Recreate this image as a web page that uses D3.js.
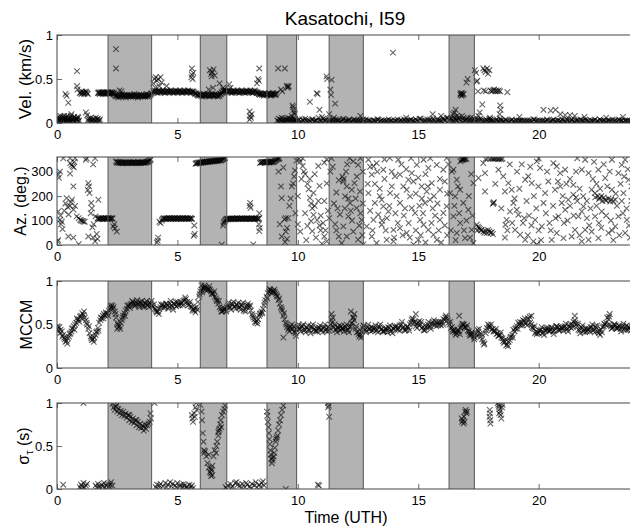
<!DOCTYPE html>
<html><head><meta charset="utf-8">
<script src="https://cdn.jsdelivr.net/npm/d3@7"></script>
<style>body{margin:0;background:#fff} text{font-family:"Liberation Sans",Arial,Helvetica,sans-serif}</style>
</head><body><svg id="c" width="630" height="527"></svg>
<script>
// ---------------- DATA ----------------
const chartTitle = "Kasatochi, I59";
const xLabel = "Time (UTH)";
const xTicks = [0, 5, 10, 15, 20];
const shadeStart = [2.12, 5.95, 8.72, 11.3, 16.28];
const shadeEnd   = [3.93, 7.05, 9.95, 12.72, 17.33];

const velTicks = [0, 0.5, 1];
const azTicks = [0, 100, 200, 300];
const mccmTicks = [0, 0.5, 1];
const sigTicks = [0, 0.5, 1];

// runs: [start time (h), sample step (h), values]
const velRuns = [
 [0.0,0.04,[0.03,0.05,0.02,0.06,0.04,0.01,0.07,0.03,0.05,0.02,0.04,0.08,0.03,0.05,0.02,0.06,0.04,0.03,0.07,0.02,0.05,0.04,0.06,0.03]],
 [0.02,0.04,[0.06,0.02,0.04,0.08,0.01,0.05,0.03,0.06,0.02,0.07,0.04,0.01,0.05,0.03,0.08,0.02,0.04,0.06,0.01,0.05,0.03,0.07,0.02]],
 [0.95,0.03,[0.34,0.35,0.33,0.36,0.34,0.35,0.33,0.34,0.36,0.35,0.34,0.33]],
 [1.28,0.03,[0.03,0.05,0.02,0.04,0.06,0.02,0.03,0.05,0.01,0.04,0.03,0.06,0.02,0.04,0.05,0.03,0.02,0.04]],
 [1.7,0.025,[0.34,0.35,0.34,0.33,0.35,0.34,0.34,0.35,0.33,0.34,0.35,0.34,0.34,0.33,0.35,0.34,0.34,0.35,0.34,0.33,0.34,0.35,0.34,0.34,0.35,0.34,0.33,0.34]],
 [2.4,0.03,[0.32,0.31,0.30,0.32,0.31,0.29,0.31,0.32,0.30,0.31,0.33,0.31,0.30,0.32,0.31,0.29,0.31,0.32,0.30,0.31,0.32,0.31,0.30,0.32,0.31,0.30,0.31,0.33,0.31,0.30,0.32,0.31,0.29,0.31,0.32,0.30,0.31,0.32,0.31,0.30,0.32,0.31,0.30,0.31,0.33,0.31,0.30,0.32,0.31,0.32,0.33,0.34]],
 [4.0,0.03,[0.36,0.35,0.37,0.36,0.35,0.36,0.34,0.36,0.37,0.35,0.36,0.35,0.36,0.37,0.35,0.36,0.34,0.36,0.35,0.37,0.36,0.35,0.36,0.35,0.37,0.36,0.35,0.36,0.34,0.36,0.35,0.37,0.36,0.35,0.36,0.35,0.36,0.37,0.35,0.36,0.34,0.36,0.35,0.37,0.36,0.35,0.36,0.35,0.37,0.36,0.35,0.36,0.34,0.36,0.35,0.36,0.35,0.34,0.33,0.34,0.33,0.32]],
 [5.85,0.03,[0.32,0.31,0.33,0.32,0.31,0.32,0.30,0.32,0.33,0.31,0.32,0.31,0.32,0.33,0.31,0.32,0.30,0.32,0.31,0.33,0.32,0.31,0.32,0.31,0.33,0.32,0.31,0.32,0.30,0.32,0.31,0.33]],
 [6.8,0.03,[0.33,0.35,0.34,0.37,0.36,0.38,0.36,0.37,0.36]],
 [7.07,0.03,[0.36,0.35,0.37,0.36,0.35,0.36,0.34,0.36,0.35,0.37,0.36,0.35,0.36,0.35,0.37,0.36,0.34,0.36,0.35,0.36,0.37,0.35,0.36,0.35,0.36,0.34,0.36,0.37,0.35,0.36,0.35,0.36,0.37,0.35,0.36,0.34,0.36,0.35,0.37,0.36,0.35,0.34,0.35,0.34,0.33]],
 [8.4,0.03,[0.33,0.32,0.34,0.33,0.32,0.33,0.31,0.33,0.34,0.32,0.33,0.32,0.33,0.34,0.32,0.33,0.31,0.33,0.32,0.34,0.33,0.32,0.33,0.32,0.34]],
 [9.15,0.03,[0.03,0.02,0.05,0.01,0.04,0.03,0.06,0.02,0.04,0.01,0.03,0.05,0.02,0.04,0.03,0.06,0.02,0.03,0.05,0.01,0.04,0.02,0.05,0.03,0.04,0.02]],
 [9.9,0.08,[0.03,0.02,0.04,0.01,0.03,0.05,0.02,0.03,0.01,0.04,0.02,0.03,0.06,0.02,0.01,0.03,0.04,0.02,0.03,0.01,
  0.02,0.04,0.03,0.01,0.02,0.05,0.03,0.02,0.04,0.01,0.03,0.02,0.01,0.03,0.02,0.04,0.02,0.01,0.03,0.02,
  0.01,0.03,0.02,0.04,0.02,0.01,0.03,0.02,0.01,0.02,0.03,0.01,0.02,0.04,0.02,0.03,0.01,0.02,0.03,0.02,
  0.04,0.02,0.01,0.03,0.02,0.05,0.02,0.03,0.01,0.02,0.04,0.02,0.03,0.01,0.02,0.03,0.02,0.04,0.03,0.06,
  0.03,0.05,0.02,0.04,0.03,0.07,0.02,0.05,0.03,0.04,0.02,0.06,0.03,0.04,0.02,0.03,0.05,0.02,0.03,0.04,
  0.02,0.03,0.01,0.02,0.03,0.02,0.01,0.03,0.02,0.04,0.02,0.01,0.03,0.02,0.01,0.02,0.03,0.02,0.01,0.03,
  0.02,0.01,0.03,0.02,0.04,0.02,0.01,0.03,0.02,0.01,0.02,0.03,0.01,0.02,0.04,0.02,0.03,0.01,0.02,0.03,
  0.02,0.04,0.01,0.03,0.02,0.01,0.03,0.02,0.04,0.02,0.01,0.03,0.02,0.01,0.02,0.03,0.01,0.02,0.04,0.02,
  0.03,0.01,0.02,0.03,0.02,0.01,0.03,0.02,0.04,0.02,0.01,0.03,0.02,0.01,0.02,0.03,0.02]],
 [9.94,0.08,[0.02,0.03,0.01,0.04,0.02,0.03,0.01,0.02,0.04,0.02,0.03,0.01,0.02,0.03,0.05,0.02,0.01,0.03,0.02,0.04,
  0.01,0.02,0.03,0.02,0.04,0.01,0.02,0.03,0.01,0.02,0.04,0.03,0.02,0.01,0.03,0.02,0.04,0.03,0.02,0.01,
  0.03,0.02,0.04,0.01,0.03,0.02,0.01,0.03,0.04,0.02,0.01,0.03,0.02,0.01,0.03,0.02,0.04,0.01,0.02,0.03,
  0.02,0.03,0.04,0.02,0.05,0.03,0.01,0.02,0.04,0.03,0.02,0.05,0.01,0.04,0.03,0.02,0.05,0.03,0.06,0.04,
  0.05,0.02,0.06,0.03,0.05,0.04,0.08,0.03,0.04,0.06,0.03,0.02,0.05,0.03,0.04,0.02,0.03,0.01,0.02,0.03,
  0.01,0.02,0.03,0.01,0.04,0.02,0.03,0.01,0.02,0.03,0.01,0.02,0.04,0.02,0.03,0.01,0.02,0.03,0.02,0.01,
  0.03,0.02,0.01,0.04,0.02,0.03,0.02,0.01,0.03,0.02,0.04,0.01,0.02,0.03,0.02,0.01,0.03,0.02,0.04,0.02,
  0.01,0.03,0.02,0.04,0.01,0.02,0.03,0.01,0.02,0.03,0.04,0.02,0.01,0.03,0.02,0.04,0.02,0.01,0.03,0.02,
  0.02,0.01,0.03,0.02,0.04,0.02,0.01,0.03,0.02,0.03,0.01,0.02,0.03,0.02,0.01,0.02]]
];
const velPts = [[0.35,0.33],[0.4,0.31],[0.47,0.23],[0.83,0.59],[0.83,0.42],[0.85,0.38],[0.3,0.08],[0.6,0.1],[1.2,0.12],[1.25,0.09],[2.45,0.84],[2.45,0.62],[2.68,0.36],[2.6,0.37],[4.0,0.45],[4.05,0.5],[4.1,0.52],[4.15,0.48],[4.2,0.5],[4.25,0.42],[4.3,0.52],[4.35,0.46],[4.08,0.4],[4.55,0.42],[5.6,0.62],[5.6,0.55],[5.63,0.5],[5.66,0.57],[5.58,0.52],[6.35,0.6],[6.4,0.56],[6.45,0.58],[6.5,0.61],[6.55,0.54],[6.42,0.53],[6.48,0.4],[6.3,0.38],[6.75,0.45],[6.9,0.4],[7.15,0.44],[7.2,0.4],[8.0,0.13],[8.02,0.08],[8.05,0.06],[8.0,0.04],[8.08,0.1],[8.4,0.62],[8.35,0.5],[8.3,0.45],[8.38,0.48],[9.18,0.62],[9.46,0.62],[9.54,0.42],[9.57,0.4],[9.6,0.41],[9.62,0.42],[9.3,0.38],[9.35,0.36],[9.8,0.18],[9.82,0.15],[9.85,0.12],[9.78,0.2],[9.88,0.1],[9.75,0.08],[10.5,0.24],[10.78,0.34],[10.82,0.33],[11.19,0.53],[11.22,0.5],[11.4,0.49],[11.35,0.38],[11.38,0.32],[11.55,0.22],[10.9,0.15],[11.0,0.07],[11.3,0.1],[11.5,0.06],[13.95,0.8],[15.6,0.1],[15.95,0.08],[16.5,0.12],[16.55,0.15],[16.45,0.1],[16.6,0.08],[16.75,0.32],[16.78,0.33],[16.8,0.31],[16.82,0.34],[16.85,0.32],[16.88,0.33],[16.76,0.34],[17.0,0.46],[17.05,0.5],[17.35,0.6],[17.4,0.57],[17.42,0.47],[17.45,0.48],[17.48,0.36],[17.66,0.21],[17.55,0.12],[17.5,0.08],[17.7,0.62],[17.75,0.6],[17.8,0.58],[17.85,0.62],[17.9,0.56],[17.95,0.6],[17.72,0.37],[17.8,0.36],[18.0,0.37],[18.05,0.36],[18.1,0.37],[18.15,0.38],[18.2,0.36],[18.25,0.37],[18.3,0.36],[18.35,0.37],[18.4,0.36],[18.7,0.35],[18.4,0.2],[18.42,0.15],[18.38,0.1],[18.4,0.05],[17.95,0.05],[18.0,0.04],[17.98,0.06],[20.2,0.15],[20.5,0.14],[20.7,0.15],[20.9,0.1],[21.1,0.09],[21.3,0.09],[21.5,0.08],[21.9,0.07],[12.6,0.08],[14.5,0.06],[19.2,0.07],[22.8,0.06],[23.5,0.07]];

const azRuns = [
 [1.68,0.03,[108,110,106,109,107,111,108,106,110,108,109,107,110,108,106,109,111,108,107,110,108,109]],
 [2.45,0.03,[342,338,336,340,337,335,339,336,338,334,337,339,336,335,338,337,334,336,339,337,335,338,336,337,339,335,337,338,336,334,337,339,336,338,335,337,339,336,338,337,336,339,338,340,342,341,344,346,350]],
 [4.35,0.03,[100,105,108,110,107,109,106,110,108,107,111,108,106,109,110,108,107,109,111,108,106,110,108,109,107,110,108,106,109,111,108,107,110,108,109,107,110,108,106,109,110,108,107]],
 [5.75,0.03,[332,335,334,336,338,335,337,339,336,338,340,337,339,341,338,340,342,339,341,343,340,342,344,341,343,345,342,344,346,343,345,347,344,346,348,345,347,350,352,354,355,357]],
 [6.95,0.03,[95,100,104,106,108,105,107,109,106,108,107,110,106,108,107,109,105,108,110,107,106,109,108,107,110,106,108,107,109,108,106,110,107,108,109,106,108,107,110,108,106,109,107,108,110,107,108,106,109]],
 [8.43,0.03,[335,338,340,337,339,341,338,340,336,339,341,338,340,337,339,342,338,340,341,339,343,345,347,350,353,355,352,356]]
];
const azPts = [
 [0.05,20],[0.02,15],[0.05,288],[0.08,275],[0.12,300],[0.26,355],[0.54,355],[0.75,355],[1.23,355],[1.58,355],[0.54,292],[0.6,328],[0.55,335],[0.65,322],[0.72,340],[0.7,318],[1.2,348],[1.5,330],[0.68,240],[1.3,253],[1.28,225],[1.35,212],[1.33,240],[1.72,185],[1.42,172],[1.45,150],[1.4,130],[1.6,117],[0.4,192],[0.54,160],[0.58,175],[0.68,145],[0.48,125],[0.35,170],[0.45,155],[0.62,185],[0.75,160],[0.3,140],[0.05,137],[0.12,103],[0.17,85],[0.23,65],[0.15,120],[0.2,95],[0.82,117],[0.96,103],[1.1,96],[0.9,110],[1.0,100],[1.05,98],[1.15,95],[0.47,35],[0.68,30],[1.3,35],[1.5,30],[1.58,15],[1.65,45],[1.52,85],[1.47,72],[1.68,25],[0.9,3],
 [2.34,76],[2.48,55],[2.4,68],[2.38,85],[4.2,30],[4.15,10],[4.18,18],[4.25,95],[4.3,90],[5.7,80],[5.72,45],[5.68,38],[6.84,1],[6.9,80],[6.92,90],[8.02,172],[8.04,152],[8.0,160],[8.15,2],[8.4,130],[8.4,57],[8.38,85],[8.42,70],
 [9.4,317],[9.33,192],[9.5,110],[9.45,105],[9.6,110],[9.25,85],[9.5,55],[9.33,35],[9.47,12],[9.55,25],[9.88,305],[9.75,240],[9.8,252],[9.85,280],[9.95,345],[10.05,352],[10.1,340],[10.2,355],[9.2,300],[9.3,240],[9.65,160],[9.7,190],[9.9,130],[9.55,70],
 [10.2,323],[10.3,290],[10.4,250],[10.45,228],[10.5,193],[10.55,170],[10.6,150],[10.65,123],[10.8,102],[10.9,80],[10.95,60],[11.1,35],[11.2,15],[10.0,85],[10.1,55],[10.4,78],[10.55,98],[10.6,57],[10.65,213],[10.85,180],[10.9,242],[10.7,290],[10.85,323],[11.1,337],[11.2,350],[11.4,355],[11.2,252],[11.1,180],[11.3,110],[11.25,140],[11.5,170],[11.55,85],[11.7,35],[11.7,265],[11.6,215],[11.75,125],[10.3,130],[10.0,200],[10.15,270],[10.75,30],[11.0,5],[10.35,20],
 [11.89,260],[12.03,240],[12.24,226],[11.96,199],[12.3,342],[12.5,328],[12.35,253],[12.58,219],[12.17,172],[12.44,151],[12.1,117],[12.65,103],[11.89,76],[12.3,55],[12.03,35],[12.5,22],[11.82,8],[12.72,2],[11.85,280],[11.9,270],[12.0,300],[12.15,355],[12.6,355],[12.7,300],[12.4,190],[12.2,140],[12.55,80],[11.95,150],[12.7,170],
 [12.93,349],[13.14,322],[13.07,288],[13.27,335],[13.55,308],[13.82,356],[14.17,349],[14.24,288],[14.03,281],[14.73,294],[14.8,260],[14.94,328],[15.22,349],[15.42,315],[15.77,328],[16.04,308],[16.18,356],[15.56,253],[15.9,226],[15.35,219],[15.14,240],[14.52,226],[14.66,199],[13.48,185],[13.2,172],[13.55,158],[13.76,137],[13.34,124],[13.14,103],[13.48,83],[13.97,62],[14.24,69],[14.52,49],[14.73,151],[14.87,131],[15.08,103],[15.22,83],[15.42,62],[15.63,42],[15.77,21],[15.9,103],[16.04,131],[16.18,158],[15.49,185],[15.28,172],[14.24,172],[13.07,35],[13.69,21],[13.97,15],[15.0,21],[14.8,2],[13.27,8],[12.86,76],[12.93,212],[13.83,212],[14.38,240],[14.59,267],
 [13.3,300],[13.6,270],[13.9,240],[14.1,200],[14.4,120],[14.6,90],[14.9,60],[15.1,40],[15.3,10],[15.6,150],[15.7,120],[16.1,80],[16.2,40],[13.0,140],[13.4,230],[13.7,110],[14.0,30],[14.3,330],[14.7,355],[15.0,275],[15.3,290],[15.5,355],[15.9,270],[16.2,210],[12.9,250],[13.1,60],[13.6,350],[14.45,150],[15.15,190],[15.85,60],
 [16.82,352],[16.85,349],[16.87,355],[16.9,350],[16.93,352],[16.8,346],[16.75,342],[16.95,356],[17.0,352],[16.46,308],[16.6,267],[16.74,226],[16.53,199],[16.87,172],[17.08,144],[16.46,117],[16.74,90],[17.22,62],[16.6,49],[16.94,28],[17.29,8],[16.32,212],[17.29,253],[16.4,300],[16.7,130],[17.1,200],[17.2,290],[16.35,60],[17.0,100],[16.55,20],
 [17.43,83],[17.48,75],[17.52,70],[17.56,65],[17.6,60],[17.64,62],[17.7,55],[17.75,50],[17.8,58],[17.85,49],[17.45,60],[17.9,62],[17.95,55],[18.0,49],[18.05,52],[18.1,45],[17.7,335],[17.77,294],[17.77,219],[17.5,274],[17.8,352],[17.9,355],[18.0,354],[18.05,356],[18.1,352],[18.15,355],[18.2,353],[18.25,356],[18.3,354],[18.35,352],[18.4,355],[18.45,351],[18.5,354],[18.12,172],[18.1,168],[18.14,175],
 [18.33,308],[18.53,281],[18.74,253],[18.88,226],[18.6,219],[18.67,103],[18.62,83],[18.81,137],[18.95,172],[19.09,144],[19.16,124],[19.02,62],[19.23,42],[19.44,21],[19.78,15],[19.92,2],[19.44,267],[19.57,281],[19.71,253],[19.92,342],[20.06,315],[20.2,172],[20.27,212],[19.85,103],[20.13,76],[19.99,240],[20.61,335],[20.75,322],[20.89,294],[21.1,308],[20.68,226],[20.96,172],[21.1,144],[20.82,117],[21.23,185],[21.44,206],[20.75,49],[20.54,21],[21.03,28],[21.37,35],[21.51,62],[21.65,117],[21.79,137],[21.86,158],[21.93,349],[21.79,308],[22.07,294],[22.2,226],[22.34,212],[22.55,192],[22.76,185],[22.97,178],[23.18,185],[23.04,226],[23.31,294],[23.45,328],[23.04,349],[23.59,349],[23.73,267],[23.52,212],[23.66,103],[23.31,117],[23.18,76],[23.59,49],[22.9,49],[22.48,28],[22.2,55],[22.07,21],[21.93,62],[21.79,15],[22.34,117],[22.62,137],[22.76,274],[22.48,308],[21.44,246],
 [18.7,60],[18.9,90],[19.1,300],[19.3,330],[19.5,180],[19.6,120],[19.7,80],[19.8,200],[20.0,355],[20.3,130],[20.4,260],[20.45,90],[20.6,160],[20.9,240],[21.0,200],[21.2,100],[21.3,270],[21.6,355],[21.7,230],[22.0,180],[22.1,80],[22.3,340],[22.4,250],[22.6,70],[22.7,330],[22.85,240],[23.0,100],[23.1,20],[23.25,160],[23.4,250],[23.5,130],[23.7,310],[23.8,30],[23.85,180],[23.9,355],[22.6,200],[22.65,180],[22.7,195],[22.9,190],[23.1,180],[22.45,200],
 [10.25,300],[10.5,270],[10.7,160],[10.95,120],[11.05,90],[11.15,60],[11.35,300],[11.45,320],[11.6,60],[11.65,150],[12.05,330],[12.1,190],[12.25,100],[12.45,280],[12.6,130],[12.68,40],[13.0,320],[13.2,250],[13.4,200],[13.5,100],[13.65,60],[13.8,160],[13.9,300],[14.05,130],[14.15,90],[14.35,40],[14.5,310],[14.65,30],[14.9,210],[15.05,160],[15.2,130],[15.4,240],[15.55,90],[15.65,200],[15.8,170],[15.95,10],[16.1,260],[16.25,330],[16.5,160],[16.65,240],[16.9,60],[17.15,30],[17.25,120],[18.2,250],[18.45,150],[18.6,30],[18.8,330],[19.0,190],[19.2,230],[19.35,90],[19.55,40],[19.65,320],[19.9,150],[20.1,20],[20.35,300],[20.5,60],[20.7,110],[20.8,260],[21.05,90],[21.15,250],[21.3,160],[21.45,120],[21.55,300],[21.7,40],[21.85,200],[22.0,110],[22.15,150],[22.25,270],[22.4,160],[22.5,90],[22.55,230],[22.8,120],[22.95,300],[23.05,60],[23.2,210],[23.35,40],[23.45,180],[23.55,280],[23.65,150],[23.75,80],[23.85,240],[23.95,120],[22.35,195],[22.5,188],[22.8,182],[23.0,185],[21.55,195],[21.6,180],[20.0,60],[19.4,110]
];

// MCCM: three interleaved sample series (every 0.1 h)
const mccmA = [
 0.45,0.47,0.42,0.35,0.31,0.36,0.42,0.48,0.52,0.56, 0.60,0.61,0.55,0.45,0.36,0.33,0.38,0.46,0.55,0.60,
 0.60,0.63,0.68,0.72,0.65,0.52,0.48,0.55,0.63,0.68, 0.72,0.74,0.74,0.75,0.73,0.74,0.72,0.74,0.73,0.74,
 0.70,0.67,0.65,0.70,0.73,0.70,0.72,0.74,0.70,0.73, 0.76,0.72,0.75,0.78,0.76,0.73,0.70,0.66,0.70,0.82,
 0.90,0.92,0.92,0.91,0.88,0.85,0.80,0.74,0.68,0.66, 0.68,0.72,0.70,0.73,0.71,0.72,0.70,0.72,0.68,0.72,
 0.70,0.62,0.56,0.54,0.60,0.65,0.72,0.82,0.88,0.89, 0.88,0.85,0.78,0.70,0.60,0.52,0.44,0.48,0.45,0.40,
 0.47,0.45,0.48,0.44,0.46,0.43,0.47,0.45,0.42,0.46, 0.44,0.47,0.45,0.43,0.55,0.47,0.44,0.46,0.48,0.45,
 0.47,0.44,0.48,0.58,0.45,0.42,0.38,0.46,0.44,0.47, 0.45,0.43,0.46,0.44,0.47,0.45,0.42,0.44,0.46,0.43,
 0.45,0.48,0.46,0.50,0.47,0.44,0.46,0.52,0.56,0.48, 0.52,0.50,0.47,0.44,0.50,0.48,0.53,0.50,0.52,0.50,
 0.53,0.55,0.58,0.50,0.47,0.44,0.40,0.42,0.48,0.50, 0.46,0.42,0.38,0.36,0.40,0.42,0.36,0.30,0.40,0.50,
 0.47,0.45,0.42,0.40,0.38,0.34,0.30,0.27,0.32,0.38, 0.42,0.48,0.50,0.52,0.54,0.52,0.56,0.50,0.45,0.42,
 0.40,0.44,0.41,0.43,0.46,0.44,0.42,0.45,0.47,0.44, 0.46,0.48,0.45,0.47,0.50,0.55,0.48,0.43,0.46,0.44,
 0.42,0.45,0.47,0.44,0.46,0.40,0.44,0.48,0.52,0.56, 0.48,0.47,0.49,0.46,0.45,0.48,0.47,0.44,0.46,0.48,
 0.45];
const mccmB = [
 0.43,0.44,0.38,0.30,0.34,0.40,0.46,0.50,0.55,0.59, 0.63,0.58,0.50,0.40,0.32,0.35,0.42,0.52,0.57,0.62,
 0.62,0.66,0.70,0.70,0.58,0.47,0.52,0.60,0.66,0.71, 0.73,0.76,0.72,0.74,0.76,0.71,0.75,0.72,0.75,0.72,
 0.68,0.64,0.68,0.72,0.71,0.74,0.70,0.72,0.74,0.71, 0.74,0.74,0.77,0.79,0.72,0.71,0.68,0.64,0.76,0.88,
 0.92,0.93,0.90,0.90,0.86,0.82,0.77,0.70,0.65,0.67, 0.70,0.70,0.74,0.70,0.73,0.69,0.73,0.66,0.70,0.71,
 0.66,0.58,0.52,0.56,0.63,0.68,0.78,0.86,0.90,0.88, 0.87,0.82,0.74,0.66,0.56,0.47,0.42,0.50,0.42,0.44,
 0.45,0.48,0.43,0.47,0.44,0.48,0.44,0.43,0.47,0.44, 0.46,0.43,0.47,0.50,0.58,0.44,0.47,0.43,0.46,0.48,
 0.43,0.47,0.52,0.62,0.41,0.36,0.42,0.48,0.43,0.45, 0.47,0.44,0.43,0.48,0.44,0.42,0.46,0.47,0.42,0.46,
 0.47,0.44,0.49,0.46,0.43,0.48,0.50,0.57,0.52,0.46, 0.54,0.46,0.43,0.48,0.47,0.51,0.55,0.48,0.53,0.49,
 0.56,0.60,0.52,0.46,0.42,0.38,0.44,0.46,0.50,0.47, 0.43,0.37,0.40,0.35,0.44,0.39,0.33,0.28,0.46,0.49,
 0.44,0.43,0.39,0.37,0.35,0.29,0.26,0.30,0.36,0.44, 0.46,0.52,0.49,0.55,0.51,0.57,0.52,0.46,0.40,0.41,
 0.43,0.40,0.45,0.44,0.42,0.46,0.43,0.48,0.43,0.46, 0.47,0.44,0.49,0.46,0.53,0.50,0.44,0.47,0.42,0.45,
 0.44,0.47,0.43,0.48,0.42,0.38,0.47,0.50,0.58,0.50, 0.46,0.50,0.45,0.48,0.47,0.44,0.49,0.46,0.48,0.45];
const mccmC = [
 0.48,0.40,0.36,0.33,0.28,0.39,0.45,0.44,0.57,0.53, 0.57,0.65,0.52,0.48,0.34,0.30,0.41,0.43,0.58,0.57,
 0.64,0.60,0.72,0.68,0.62,0.50,0.45,0.58,0.60,0.72, 0.69,0.77,0.71,0.78,0.70,0.77,0.70,0.77,0.70,0.77,
 0.73,0.65,0.62,0.73,0.69,0.74,0.68,0.77,0.67,0.76, 0.72,0.76,0.72,0.81,0.74,0.76,0.66,0.69,0.67,0.85,
 0.87,0.95,0.89,0.94,0.85,0.88,0.78,0.77,0.65,0.69, 0.65,0.75,0.67,0.76,0.68,0.75,0.67,0.75,0.65,0.74,
 0.72,0.60,0.53,0.51,0.62,0.63,0.75,0.80,0.91,0.86, 0.90,0.83,0.80,0.68,0.63,0.50,0.46,0.45,0.48,0.37,
 0.50,0.42,0.50,0.41,0.49,0.40,0.50,0.42,0.45,0.49, 0.41,0.50,0.42,0.46,0.52,0.50,0.41,0.49,0.45,0.42,
 0.50,0.41,0.51,0.55,0.48,0.39,0.35,0.49,0.41,0.50, 0.42,0.46,0.49,0.41,0.50,0.42,0.45,0.41,0.49,0.40,
 0.48,0.45,0.43,0.53,0.44,0.47,0.43,0.55,0.53,0.51, 0.49,0.53,0.44,0.47,0.53,0.45,0.50,0.53,0.49,0.53,
 0.50,0.58,0.55,0.53,0.44,0.41,0.43,0.39,0.51,0.47, 0.49,0.39,0.41,0.33,0.37,0.45,0.39,0.27,0.43,0.47,
 0.50,0.42,0.45,0.37,0.41,0.31,0.33,0.25,0.35,0.35, 0.45,0.45,0.53,0.49,0.57,0.49,0.59,0.47,0.48,0.39,
 0.43,0.47,0.38,0.46,0.43,0.47,0.39,0.48,0.44,0.47, 0.43,0.51,0.42,0.50,0.47,0.52,0.51,0.40,0.49,0.41,
 0.45,0.42,0.50,0.41,0.49,0.43,0.41,0.51,0.49,0.59, 0.45,0.50,0.46,0.49,0.42,0.51,0.44,0.47,0.43,0.51];
const mccmRuns = [[0, 0.1, mccmA], [0.05, 0.1, mccmB], [0.025, 0.1, mccmC]];
const mccmPts = [[2.5,0.45],[6.0,0.95],[9.4,0.35],[11.4,0.62],[12.2,0.65],[12.3,0.58],[14.9,0.62],[16.7,0.6],[19.7,0.6],[21.5,0.6],[22.95,0.62]];

const sigPts = [
 [0.26,0.05],[1.1,1.0],[0.95,0.02],[1.0,0.05],[1.05,0.03],[1.1,0.07],[1.15,0.02],[1.2,0.04],[1.02,0.0],[1.25,0.06],[1.6,0.04],[1.65,0.02],[1.7,0.06],[1.75,0.03],[1.8,0.01],[1.85,0.05],[1.9,0.03],[1.95,0.07],[2.0,0.02],[2.05,0.04],[2.1,0.06],[2.15,0.03],[2.2,0.05],[2.25,0.08],[2.3,0.04],
 [2.35,0.95],[2.4,0.92],[2.45,0.96],[2.5,0.9],[2.55,0.93],[2.6,0.88],[2.65,0.91],[2.7,0.86],[2.75,0.9],[2.8,0.85],[2.85,0.88],[2.9,0.83],[2.95,0.86],[3.0,0.8],[3.05,0.84],[3.1,0.78],[3.15,0.82],[3.2,0.77],[3.25,0.8],[3.3,0.74],[3.35,0.78],[3.4,0.72],[3.45,0.76],[3.5,0.71],[3.55,0.74],[3.6,0.72],[3.65,0.75],[3.7,0.7],[3.75,0.74],[3.8,0.76],[3.85,0.78],[3.9,0.82],[3.88,0.88],[2.3,0.99],[2.5,0.98],[3.0,0.86],[3.3,0.8],[3.6,0.68],
 [4.05,1.0],
 [4.1,0.02],[4.15,0.05],[4.2,0.0],[4.25,0.04],[4.3,0.06],[4.4,0.03],[4.5,0.07],[4.6,0.05],[4.7,0.08],[4.8,0.06],[4.9,0.04],[5.0,0.07],[5.1,0.03],[5.15,0.05],[5.2,0.02],[5.3,0.04],[5.35,0.01],[5.4,0.03],[5.5,0.05],[5.55,0.02],[5.6,0.04],[5.65,0.01],[4.55,0.02],[4.75,0.03],[4.95,0.02],[5.25,0.06],[5.45,0.0],
 [5.6,0.86],[5.62,0.82],[5.65,0.78],[5.7,0.88],[5.75,0.95],[5.78,1.0],[5.8,0.92],[5.72,0.84],
 [5.95,0.98],[6.0,0.9],[6.02,0.8],[6.05,0.65],[6.08,0.55],[6.1,0.45],[6.12,0.42],[6.15,0.44],[6.2,0.38],[6.25,0.3],[6.3,0.25],[6.35,0.2],[6.38,0.18],[6.4,0.15],[6.42,0.22],[6.45,0.27],[6.3,0.4],[6.5,0.38],[6.55,0.45],[6.6,0.42],[6.62,0.5],[6.65,0.55],[6.7,0.62],[6.72,0.68],[6.75,0.7],[6.78,0.75],[6.8,0.8],[6.85,0.86],[6.9,0.9],[6.95,0.93],[6.98,0.97],[6.4,0.24],[6.45,0.16],[6.7,0.66],[6.82,0.72],
 [7.0,0.02],[7.05,0.0],[7.1,0.04],[7.2,0.06],[7.3,0.03],[7.4,0.07],[7.5,0.05],[7.6,0.04],[7.7,0.06],[7.8,0.02],[7.9,0.05],[8.0,0.03],[8.1,0.06],[8.2,0.04],[8.3,0.02],[8.4,0.05],[8.5,0.07],[8.55,0.09],[8.6,0.04],[7.25,0.02],[7.45,0.08],[7.65,0.01],[7.85,0.07],[8.05,0.01],[8.25,0.08],[8.45,0.02],
 [8.72,0.9],[8.73,0.85],[8.75,0.78],[8.78,0.72],[8.8,0.65],[8.82,0.58],[8.84,0.52],[8.86,0.45],[8.88,0.4],[8.9,0.35],[8.92,0.3],[8.95,0.33],[9.0,0.38],[9.02,0.42],[9.05,0.48],[9.08,0.55],[9.12,0.6],[9.15,0.62],[9.18,0.68],[9.22,0.75],[9.26,0.8],[9.3,0.86],[9.35,0.92],[9.4,0.97],[8.95,0.36],[9.1,0.58],
 [9.5,0.0],[10.83,0.05],[10.88,0.04],[11.25,1.0],[11.28,0.97],[11.26,0.95],[11.3,0.84],
 [16.8,0.82],[16.82,0.78],[16.85,0.8],[16.88,0.76],[16.9,0.84],[16.95,0.9],[16.97,0.92],[17.0,0.88],[17.02,0.9],[16.92,0.78],
 [17.97,0.92],[17.98,0.88],[17.96,0.84],[17.99,0.8],[18.0,0.76],
 [18.3,1.0],[18.33,0.98],[18.35,0.96],[18.38,0.93],[18.4,0.9],[18.42,0.86],[18.45,0.82],[18.48,0.95],[18.5,0.98],[18.36,0.88]
];

// ---------------- DRAWING ----------------
const expand = runs => runs.flatMap(([t0, dt, vals]) => vals.map((v, i) => [t0 + i * dt, v]));

const svg = d3.select("#c");
const x = d3.scaleLinear().domain([0, 24]).range([57, 635]);

const panels = [
  {top: 35, bottom: 123, domain: [0, 1], ticks: velTicks, label: "Vel. (km/s)", lx: 31, fs: 17, pts: expand(velRuns).concat(velPts)},
  {top: 157, bottom: 245, domain: [0, 360], ticks: azTicks, label: "Az. (deg.)", lx: 26, fs: 16, pts: expand(azRuns).concat(azPts)},
  {top: 281, bottom: 368, domain: [0, 1], ticks: mccmTicks, label: "MCCM", lx: 32, fs: 16, pts: expand(mccmRuns).concat(mccmPts)},
  {top: 403, bottom: 489, domain: [0, 1], ticks: sigTicks, label: "sigma", lx: 29, fs: 16, pts: sigPts}
];

const fmt = d3.format("~g");
const cross = "M-2.8,-2.8L2.8,2.8M-2.8,2.8L2.8,-2.8";

panels.forEach((p, k) => {
  const y = d3.scaleLinear().domain(p.domain).range([p.bottom, p.top]);
  const g = svg.append("g");
  const cid = "clip" + k;
  svg.append("clipPath").attr("id", cid).append("rect")
    .attr("x", x(0)).attr("y", p.top).attr("width", x(24) - x(0)).attr("height", p.bottom - p.top);

  const shades = shadeStart.map((s, i) => [s, shadeEnd[i]]);
  g.selectAll("rect.sh").data(shades).join("rect").attr("class", "sh")
    .attr("x", d => x(d[0])).attr("width", d => x(d[1]) - x(d[0]))
    .attr("y", p.top).attr("height", p.bottom - p.top).attr("fill", "#b3b3b3");

  g.append("g").attr("clip-path", `url(#${cid})`)
    .selectAll("path").data(p.pts).join("path")
    .attr("d", cross)
    .attr("transform", d => `translate(${x(d[0]).toFixed(2)},${y(Math.min(d[1], p.domain[1])).toFixed(2)})`)
    .attr("fill", "none").attr("stroke", "#000").attr("stroke-opacity", 0.6).attr("stroke-width", 1.1);

  g.selectAll("line.sb").data(shades.flat()).join("line").attr("class", "sb")
    .attr("x1", d => x(d)).attr("x2", d => x(d)).attr("y1", p.top).attr("y2", p.bottom)
    .attr("stroke", "#555").attr("stroke-width", 1);

  // axes (inward ticks, box)
  const axB = d3.axisBottom(x).tickValues(xTicks).tickSize(-5).tickPadding(7).tickFormat(fmt);
  const axT = d3.axisTop(x).tickValues(xTicks).tickSize(-5).tickFormat("");
  const axL = d3.axisLeft(y).tickValues(p.ticks).tickSize(-5).tickPadding(4).tickFormat(fmt);
  const axR = d3.axisRight(y).tickValues(p.ticks).tickSize(-5).tickFormat("");
  const style = sel => {
    sel.select(".domain").remove();
    sel.selectAll("line").attr("stroke", "#444").attr("stroke-width", 0.8);
    sel.selectAll("text").attr("font-size", 13).attr("fill", "#000")
      .attr("font-family", '"Liberation Sans", Arial, sans-serif');
  };
  g.append("g").attr("transform", `translate(0,${p.bottom})`).call(axB).call(style);
  g.append("g").attr("transform", `translate(0,${p.top})`).call(axT).call(style);
  g.append("g").attr("transform", `translate(${x(0)},0)`).call(axL).call(style);
  g.append("g").attr("transform", `translate(${x(24)},0)`).call(axR).call(style);
  g.append("rect").attr("x", x(0)).attr("y", p.top).attr("width", x(24) - x(0)).attr("height", p.bottom - p.top)
    .attr("fill", "none").attr("stroke", "#444").attr("stroke-width", 1);

  const lab = svg.append("text").attr("transform", `translate(${p.lx},${(p.top + p.bottom) / 2}) rotate(-90)`)
    .attr("text-anchor", "middle").attr("font-size", p.fs).attr("fill", "#000");
  if (p.label === "sigma") {
    lab.append("tspan").text("σ");
    lab.append("tspan").attr("font-size", 11).attr("dy", 4).text("τ");
    lab.append("tspan").attr("dy", -4).text(" (s)");
  } else {
    lab.text(p.label);
  }
});

svg.append("text").attr("x", 345).attr("y", 25).attr("text-anchor", "middle")
  .attr("font-size", 19).attr("fill", "#000").text(chartTitle);
svg.append("text").attr("x", 346).attr("y", 523).attr("text-anchor", "middle")
  .attr("font-size", 16).attr("fill", "#000").text(xLabel);
</script></body></html>
